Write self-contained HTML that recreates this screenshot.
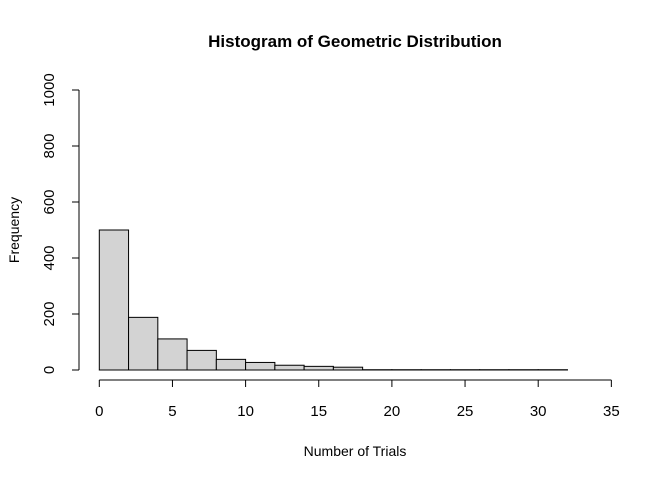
<!DOCTYPE html>
<html><head><meta charset="utf-8"><style>body{margin:0;background:#fff}text{font-family:"Liberation Sans",sans-serif}</style></head>
<body>
<svg id="c" width="672" height="480" xmlns="http://www.w3.org/2000/svg"></svg>
<script>
const binStarts=[0,2,4,6,8,10,12,14,16,18,20,22,24,26,28,30];
const counts=[500,188,111,70,38,27,17,13,10,1,1,1,1,1,1,1];
const binWidth=2;
const xTicks=[0,5,10,15,20,25,30,35];
const yTicks=[0,200,400,600,800,1000];
const svg=document.getElementById('c');
const NS='http://www.w3.org/2000/svg';
const X=v=>99.3+v*14.63;
const Y=v=>370-v*0.28;
function el(t,a,txt){const e=document.createElementNS(NS,t);for(const k in a)e.setAttribute(k,a[k]);if(txt!==undefined)e.textContent=txt;svg.appendChild(e);return e;}
binStarts.forEach((b,i)=>{
 const r=el('rect',{x:X(b),y:Y(counts[i]),width:X(b+binWidth)-X(b),height:Y(0)-Y(counts[i]),fill:'#d3d3d3',stroke:'#000','stroke-width':1});
 
 
});
let a=el('line',{x1:X(0),x2:X(35),y1:380,y2:380,stroke:'#000'});


xTicks.forEach(t=>{
 el('line',{x1:X(t),x2:X(t),y1:380,y2:387,stroke:'#000'});
 const l=el('text',{x:X(t),y:416,'text-anchor':'middle','font-size':15},t);
 
 
});
let b=el('line',{x1:79,x2:79,y1:Y(0),y2:Y(1000),stroke:'#000'});


yTicks.forEach(t=>{
 el('line',{x1:72,x2:79,y1:Y(t),y2:Y(t),stroke:'#000'});
 const l=el('text',{x:54,y:Y(t),'text-anchor':'middle','font-size':15,transform:`rotate(-90 54 ${Y(t)})`},t);
 
 
});
let t1=el('text',{x:355,y:47,'text-anchor':'middle','font-size':17,'font-weight':'bold'},'Histogram of Geometric Distribution');


let t2=el('text',{x:355,y:456,'text-anchor':'middle','font-size':14},'Number of Trials');


let t3=el('text',{x:19,y:230,'text-anchor':'middle','font-size':14,transform:'rotate(-90 19 230)'},'Frequency');


</script>
</body></html>
